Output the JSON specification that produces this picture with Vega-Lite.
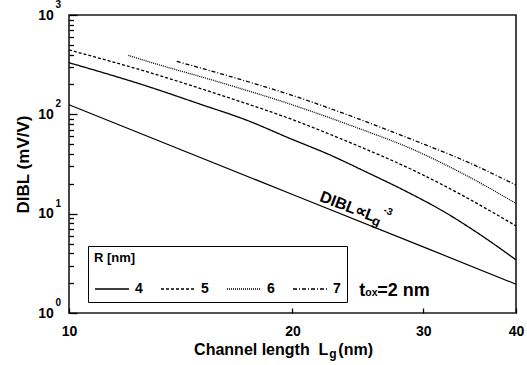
{
  "$schema": "https://vega.github.io/schema/vega-lite/v6.json",
  "width": 447,
  "height": 298,
  "autosize": {"type": "none"},
  "padding": {"left": 69, "top": 15, "right": 11, "bottom": 52},
  "background": "white",
  "config": {
    "font": "Liberation Sans",
    "view": {"stroke": "#1a1a1a", "strokeWidth": 1.6},
    "axis": {"grid": false, "domain": false, "ticks": true, "zindex": 2, "labelFont": "Liberation Sans", "labelFontWeight": "bold", "labelFontSize": 14, "labelColor": "black", "tickColor": "#000000", "tickWidth": 1.3, "tickOpacity": 1, "titleFont": "Liberation Sans", "titleFontWeight": "bold", "titleColor": "black"},
    "legend": {"orient": "none", "legendX": 19, "legendY": 231, "direction": "horizontal", "columns": 4, "titleFontSize": 13, "titleFontWeight": "bold", "titleFont": "Liberation Sans", "titleColor": "black", "titlePadding": 6, "labelFontSize": 14, "labelFontWeight": "bold", "labelFont": "Liberation Sans", "labelColor": "black", "labelOffset": 5, "columnPadding": 15, "symbolType": "stroke", "symbolSize": 1156, "symbolStrokeWidth": 1.3, "symbolStrokeColor": "black", "strokeColor": "black", "fillColor": "white", "padding": 6}
  },
  "resolve": {"axis": {"y": "independent"}},
  "datasets": {
    "curves": [
      {"Lg": 10, "DIBL": 331, "R": "4"},
      {"Lg": 12.85, "DIBL": 188, "R": "4"},
      {"Lg": 15, "DIBL": 127, "R": "4"},
      {"Lg": 17.35, "DIBL": 87.3, "R": "4"},
      {"Lg": 19.85, "DIBL": 57.1, "R": "4"},
      {"Lg": 22.5, "DIBL": 38.8, "R": "4"},
      {"Lg": 25, "DIBL": 26.8, "R": "4"},
      {"Lg": 28.8, "DIBL": 16.0, "R": "4"},
      {"Lg": 31.9, "DIBL": 10.6, "R": "4"},
      {"Lg": 35.4, "DIBL": 6.5, "R": "4"},
      {"Lg": 40, "DIBL": 3.43, "R": "4"},
      {"Lg": 10, "DIBL": 445, "R": "5"},
      {"Lg": 12.85, "DIBL": 263, "R": "5"},
      {"Lg": 15.97, "DIBL": 157, "R": "5"},
      {"Lg": 20.2, "DIBL": 86, "R": "5"},
      {"Lg": 24, "DIBL": 51.3, "R": "5"},
      {"Lg": 29.2, "DIBL": 27.0, "R": "5"},
      {"Lg": 33.6, "DIBL": 15.8, "R": "5"},
      {"Lg": 40, "DIBL": 7.53, "R": "5"},
      {"Lg": 12.02, "DIBL": 392, "R": "6"},
      {"Lg": 12.85, "DIBL": 336, "R": "6"},
      {"Lg": 15.97, "DIBL": 210, "R": "6"},
      {"Lg": 20.16, "DIBL": 122, "R": "6"},
      {"Lg": 24, "DIBL": 76.9, "R": "6"},
      {"Lg": 29.2, "DIBL": 43.6, "R": "6"},
      {"Lg": 34.2, "DIBL": 24.5, "R": "6"},
      {"Lg": 40, "DIBL": 12.7, "R": "6"},
      {"Lg": 13.97, "DIBL": 341, "R": "7"},
      {"Lg": 16.73, "DIBL": 233, "R": "7"},
      {"Lg": 20.16, "DIBL": 152, "R": "7"},
      {"Lg": 24, "DIBL": 95.7, "R": "7"},
      {"Lg": 29.2, "DIBL": 54.5, "R": "7"},
      {"Lg": 34.2, "DIBL": 33.8, "R": "7"},
      {"Lg": 40, "DIBL": 19.4, "R": "7"}
    ],
    "ref": [
      {"Lg": 10, "DIBL": 125},
      {"Lg": 20, "DIBL": 15.6},
      {"Lg": 30, "DIBL": 4.63},
      {"Lg": 40, "DIBL": 1.95}
    ]
  },
  "layer": [
    {
      "data": {"name": "curves"},
      "mark": {"type": "line", "color": "black", "strokeWidth": 1.3, "interpolate": "monotone"},
      "encoding": {
        "x": {"field": "Lg", "type": "quantitative", "title": null,
              "scale": {"type": "log", "domain": [10, 40], "nice": false},
              "axis": {"values": [10, 20, 30, 40], "ticks": true, "tickSize": 5, "offset": -5, "labelPadding": 11, "title": null, "labelFlush": false}},
        "y": {"field": "DIBL", "type": "quantitative",
              "scale": {"type": "log", "domain": [1, 1000], "nice": false},
              "axis": {"orient": "left", "values": [1, 10, 100, 1000], "labelExpr": "'10'", "ticks": true, "tickSize": 8, "offset": -8,
                       "labelPadding": 15.7, "title": "DIBL (mV/V)", "titleFontSize": 17, "titlePadding": 5}},
        "strokeDash": {"field": "R", "type": "nominal",
                       "scale": {"domain": ["4", "5", "6", "7"], "range": [[1, 0], [3, 2], [1, 1], [4, 2, 1, 2]]},
                       "legend": {"title": "R [nm]"}}
      }
    },
    {
      "data": {"name": "ref"},
      "mark": {"type": "line", "color": "black", "strokeWidth": 1.2},
      "encoding": {
        "x": {"field": "Lg", "type": "quantitative", "title": null},
        "y": {"field": "DIBL", "type": "quantitative", "title": null,
              "axis": {"orient": "left", "values": [2, 3, 4, 5, 6, 7, 8, 9, 20, 30, 40, 50, 60, 70, 80, 90, 200, 300, 400, 500, 600, 700, 800, 900],
                       "labels": false, "ticks": true, "tickSize": 4.5, "offset": -4.5, "title": null}}
      }
    },
    {
      "data": {"values": [{"v": 1, "e": "0"}, {"v": 10, "e": "1"}, {"v": 100, "e": "2"}, {"v": 1000, "e": "3"}]},
      "mark": {"type": "text", "align": "right", "baseline": "middle", "dx": -8, "dy": -10, "fontSize": 10, "fontWeight": "bold", "font": "Liberation Sans", "color": "black"},
      "encoding": {
        "x": {"datum": 10},
        "y": {"field": "v", "type": "quantitative", "title": null, "axis": null},
        "text": {"field": "e"}
      }
    },
    {
      "data": {"values": [{"Lg": 22.35, "DIBL": 1, "t": "Channel length\u00a0 L"}]},
      "mark": {"type": "text", "align": "right", "baseline": "alphabetic", "dy": 42.4, "fontSize": 16, "fontWeight": "bold", "color": "black"},
      "encoding": {"x": {"field": "Lg", "type": "quantitative", "title": null}, "y": {"field": "DIBL", "type": "quantitative", "title": null, "axis": null}, "text": {"field": "t"}}
    },
    {
      "data": {"values": [{"Lg": 22.35, "DIBL": 1, "t": "g"}]},
      "mark": {"type": "text", "align": "left", "baseline": "alphabetic", "dx": 1, "dy": 45, "fontSize": 12, "fontWeight": "bold", "color": "black"},
      "encoding": {"x": {"field": "Lg", "type": "quantitative", "title": null}, "y": {"field": "DIBL", "type": "quantitative", "title": null, "axis": null}, "text": {"field": "t"}}
    },
    {
      "data": {"values": [{"Lg": 22.35, "DIBL": 1, "t": "(nm)"}]},
      "mark": {"type": "text", "align": "left", "baseline": "alphabetic", "dx": 10, "dy": 42.4, "fontSize": 16, "fontWeight": "bold", "color": "black"},
      "encoding": {"x": {"field": "Lg", "type": "quantitative", "title": null}, "y": {"field": "DIBL", "type": "quantitative", "title": null, "axis": null}, "text": {"field": "t"}}
    },
    {
      "data": {"values": [{"Lg": 21.6, "DIBL": 12.35, "t": "DIBL\u221dL"}]},
      "mark": {"type": "text", "align": "left", "baseline": "alphabetic", "angle": 21, "dy": -4, "fontSize": 16, "fontWeight": "bold", "color": "black"},
      "encoding": {"x": {"field": "Lg", "type": "quantitative", "title": null}, "y": {"field": "DIBL", "type": "quantitative", "title": null, "axis": null}, "text": {"field": "t"}}
    },
    {
      "data": {"values": [{"Lg": 21.6, "DIBL": 12.35, "t": "g"}]},
      "mark": {"type": "text", "align": "left", "baseline": "alphabetic", "angle": 21, "dx": 57, "dy": -1, "fontSize": 13, "fontWeight": "bold", "color": "black"},
      "encoding": {"x": {"field": "Lg", "type": "quantitative", "title": null}, "y": {"field": "DIBL", "type": "quantitative", "title": null, "axis": null}, "text": {"field": "t"}}
    },
    {
      "data": {"values": [{"Lg": 21.6, "DIBL": 12.35, "t": "-3"}]},
      "mark": {"type": "text", "align": "left", "baseline": "alphabetic", "angle": 21, "dx": 64, "dy": -16, "fontSize": 10, "fontWeight": "bold", "color": "black"},
      "encoding": {"x": {"field": "Lg", "type": "quantitative", "title": null}, "y": {"field": "DIBL", "type": "quantitative", "title": null, "axis": null}, "text": {"field": "t"}}
    },
    {
      "data": {"values": [{"Lg": 24.6, "DIBL": 1.475, "t": "t"}]},
      "mark": {"type": "text", "align": "left", "baseline": "alphabetic", "fontSize": 18, "fontWeight": "bold", "color": "black"},
      "encoding": {"x": {"field": "Lg", "type": "quantitative", "title": null}, "y": {"field": "DIBL", "type": "quantitative", "title": null, "axis": null}, "text": {"field": "t"}}
    },
    {
      "data": {"values": [{"Lg": 24.6, "DIBL": 1.475, "t": "ox"}]},
      "mark": {"type": "text", "align": "left", "baseline": "alphabetic", "dx": 6, "fontSize": 10.5, "fontWeight": "bold", "color": "black"},
      "encoding": {"x": {"field": "Lg", "type": "quantitative", "title": null}, "y": {"field": "DIBL", "type": "quantitative", "title": null, "axis": null}, "text": {"field": "t"}}
    },
    {
      "data": {"values": [{"Lg": 24.6, "DIBL": 1.475, "t": "=2 nm"}]},
      "mark": {"type": "text", "align": "left", "baseline": "alphabetic", "dx": 18, "fontSize": 18, "fontWeight": "bold", "color": "black"},
      "encoding": {"x": {"field": "Lg", "type": "quantitative", "title": null}, "y": {"field": "DIBL", "type": "quantitative", "title": null, "axis": null}, "text": {"field": "t"}}
    }
  ]
}
